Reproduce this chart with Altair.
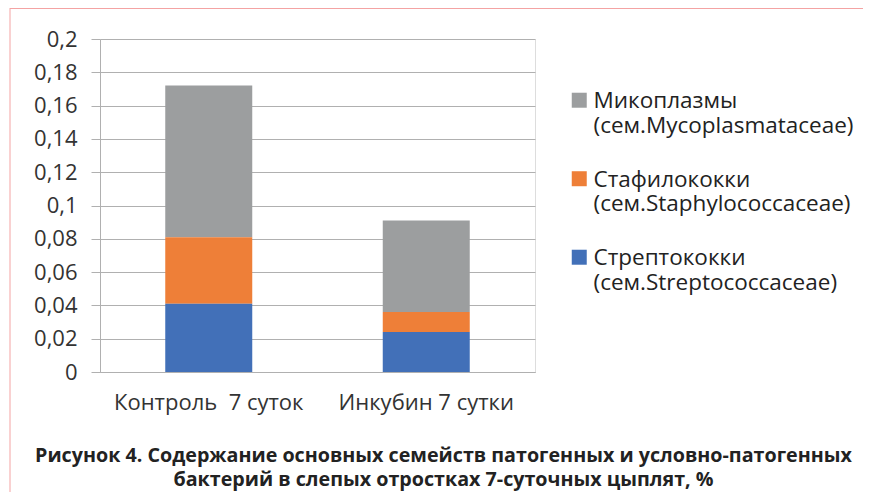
import altair as alt
import pandas as pd

# ---- data ----
groups = ["Контроль \u00a07 суток", "Инкубин 7 сутки"]
series = [
    "Микоплазмы|(сем.Mycoplasmataceae)",
    "Стафилококки|(сем.Staphylococcaceae)",
    "Стрептококки|(сем.Streptococcaceae)",
]
mycoplasma = [0.091, 0.055]
staphylococci = [0.040, 0.012]
streptococci = [0.041, 0.024]
stack_order = [2, 1, 0]   # streptococci at the bottom
colors = ["#9C9E9F", "#EE7F38", "#4270B8"]
y_ticks = [0, 0.02, 0.04, 0.06, 0.08, 0.1, 0.12, 0.14, 0.16, 0.18, 0.2]
caption = [
    "Рисунок 4. Содержание основных семейств патогенных и условно-патогенных",
    "бактерий в слепых отростках 7-суточных цыплят, %",
]

rows = []
for s, vals, o in zip(series, [mycoplasma, staphylococci, streptococci], stack_order):
    for g, v in zip(groups, vals):
        rows.append({"group": g, "series": s, "value": v, "order": o})
df = pd.DataFrame(rows)

FONT = "Open Sans"

bars = (
    alt.Chart(df)
    .mark_bar()
    .encode(
        x=alt.X(
            "group:N",
            sort=groups,
            title=None,
            scale=alt.Scale(paddingInner=0.6, paddingOuter=0.3),
            axis=alt.Axis(
                labelAngle=0,
                labelFont=FONT,
                labelFontSize=22,
                labelColor="#333333",
                labelPadding=20,
                labelLimit=400,
                ticks=False,
                domain=True,
                domainColor="#b0b0b0",
                grid=False,
            ),
        ),
        y=alt.Y(
            "value:Q",
            stack="zero",
            title=None,
            scale=alt.Scale(domain=[0, 0.2], nice=False),
            axis=alt.Axis(
                values=y_ticks,
                labelExpr="replace(format(datum.value, '.2~f'), '.', ',')",
                labelFont=FONT,
                labelFontSize=22,
                labelColor="#333333",
                labelPadding=14,
                tickSize=9,
                tickColor="#b0b0b0",
                domainColor="#b0b0b0",
                gridColor="#b0b0b0",
            ),
        ),
        color=alt.Color(
            "series:N",
            scale=alt.Scale(domain=series, range=colors),
            legend=alt.Legend(
                title=None,
                orient="none",
                legendX=468,
                legendY=58,
                padding=0,
                labelExpr="split(datum.label, '|')",
                labelFont=FONT,
                labelFontSize=22.5,
                labelColor="#222222",
                labelLimit=400,
                labelBaseline="alphabetic",
                labelOffset=3,
                symbolType="M-1,-2.07H1V-0.07H-1Z",
                symbolSize=225,
                symbolStrokeWidth=0,
                rowPadding=30.5,
            ),
        ),
        order=alt.Order("order:Q", sort="ascending"),
    )
)

frame_top = (
    alt.Chart(alt.Data(values=[{}]))
    .mark_rule(color="#f4a3a3", strokeWidth=1)
    .encode(x=alt.value(-90), x2=alt.value(771), y=alt.value(-30.5))
)
frame_left = (
    alt.Chart(alt.Data(values=[{}]))
    .mark_rule(color="#f4a3a3", strokeWidth=1)
    .encode(x=alt.value(-90), y=alt.value(-31), y2=alt.value(461))
)

chart = (
    alt.layer(frame_top, frame_left, bars)
    .properties(
        width=435,
        height=333,
        autosize=alt.AutoSizeParams(type="none"),
        padding={"left": 92, "top": 31, "right": 328, "bottom": 120},
        title=alt.TitleParams(
            text=caption,
            orient="bottom",
            anchor="middle",
            font=FONT,
            fontSize=19.7,
            fontWeight="bold",
            color="#222222",
            lineHeight=24,
            baseline="top",
            offset=-55,
            dx=126,
        ),
    )
    .configure_view(stroke=None)
    .configure(background="white")
)

chart.save("out.html", embed_options={"renderer": "svg", "actions": False})
